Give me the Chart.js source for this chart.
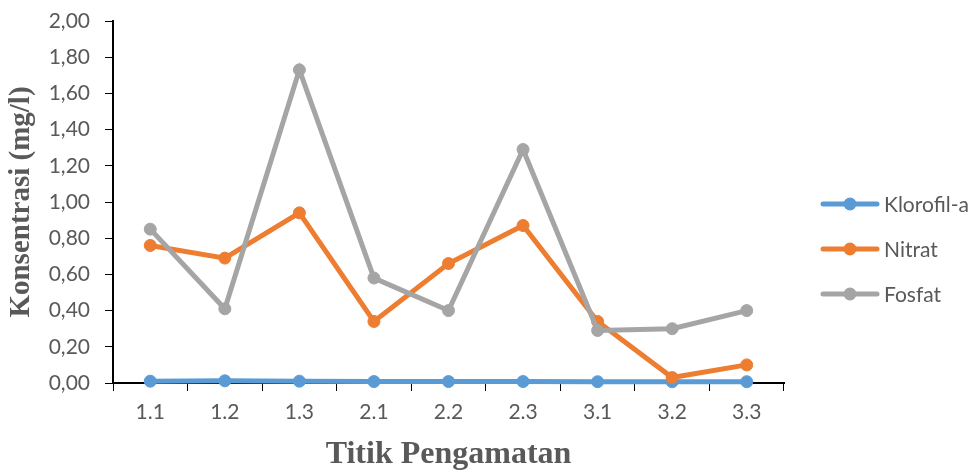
<!DOCTYPE html>
<html>
<head>
<meta charset="utf-8">
<script src="https://cdn.jsdelivr.net/npm/chart.js@4"></script>
<style>
  body { margin: 0; background: #fff; }
  canvas { display: block; }
</style>
</head>
<body>
<canvas id="chart" width="973" height="472"></canvas>
<script>
// --- data ---
const categories = ['1.1', '1.2', '1.3', '2.1', '2.2', '2.3', '3.1', '3.2', '3.3'];
const klorofil = [0.010, 0.012, 0.010, 0.008, 0.008, 0.008, 0.007, 0.007, 0.007];
const nitrat = [0.76, 0.69, 0.94, 0.34, 0.66, 0.87, 0.34, 0.03, 0.10];
const fosfat = [0.85, 0.41, 1.73, 0.58, 0.40, 1.29, 0.29, 0.30, 0.40];
const yTicks = [0, 0.2, 0.4, 0.6, 0.8, 1.0, 1.2, 1.4, 1.6, 1.8, 2.0];

const GREY_TEXT = '#595959';

function series(label, data, color, order) {
    return {
        label: label,
        data: data,
        borderColor: color,
        backgroundColor: color,
        pointBackgroundColor: color,
        pointBorderColor: color,
        borderWidth: 5,
        pointRadius: 6,
        pointBorderWidth: 1,
        tension: 0,
        clip: false,
        order: order
    };
}

// Excel-style legend on the right: line with a dot, then the label
const sideLegend = {
    id: 'sideLegend',
    afterDraw(chart) {
        const ctx = chart.ctx;
        const area = chart.chartArea;
        const sets = chart.data.datasets;
        const gap = 45;
        const mid = (area.top + area.bottom) / 2;
        const x0 = area.right + 39;
        ctx.save();
        sets.forEach((ds, i) => {
            const y = mid + i * gap + 2;
            ctx.strokeStyle = ds.borderColor;
            ctx.lineWidth = 5;
            ctx.lineCap = 'round';
            ctx.beginPath();
            ctx.moveTo(x0, y);
            ctx.lineTo(x0 + 54, y);
            ctx.stroke();
            ctx.fillStyle = ds.borderColor;
            ctx.beginPath();
            ctx.arc(x0 + 27, y, 6.5, 0, Math.PI * 2);
            ctx.fill();
            ctx.fillStyle = GREY_TEXT;
            ctx.font = '21px Lato';
            ctx.textBaseline = 'middle';
            ctx.fillText(ds.label, x0 + 61, y + 1);
        });
        ctx.restore();
    }
};

new Chart(document.getElementById('chart'), {
    type: 'line',
    data: {
        labels: categories,
        datasets: [
            series('Klorofil-a', klorofil, '#5B9BD5', 3),
            series('Nitrat', nitrat, '#ED7D31', 2),
            series('Fosfat', fosfat, '#A5A5A5', 1)
        ]
    },
    plugins: [sideLegend],
    options: {
        responsive: false,
        animation: false,
        layout: { padding: { top: 21, right: 189, bottom: 0, left: 0 } },
        plugins: {
            legend: { display: false },
            tooltip: { enabled: false }
        },
        scales: {
            x: {
                offset: true,
                grid: { drawOnChartArea: false, drawTicks: true, tickLength: 8, color: '#000', offset: true },
                border: { color: '#000', width: 2 },
                ticks: { color: GREY_TEXT, font: { family: 'Lato', size: 21 }, padding: 9 },
                title: {
                    display: true,
                    text: 'Titik Pengamatan',
                    color: GREY_TEXT,
                    font: { family: 'Liberation Serif', size: 32, weight: 'bold', lineHeight: 1.1 },
                    padding: { top: 0, bottom: 0 }
                },
                afterFit(scale) { scale.height = 89; }
            },
            y: {
                min: 0,
                max: 2,
                afterBuildTicks(scale) { scale.ticks = yTicks.map(v => ({ value: v })); },
                grid: { drawOnChartArea: false, drawTicks: true, tickLength: 8, color: '#000' },
                border: { color: '#000', width: 2 },
                ticks: {
                    color: GREY_TEXT,
                    font: { family: 'Lato', size: 21 },
                    padding: 15,
                    callback: v => v.toFixed(2).replace('.', ',')
                },
                title: {
                    display: true,
                    text: 'Konsentrasi (mg/l)',
                    color: GREY_TEXT,
                    font: { family: 'Liberation Serif', size: 29, weight: 'bold', lineHeight: 1.1 },
                    padding: { top: 6, bottom: 0 }
                },
                afterFit(scale) {
                    scale.width = 113;
                    scale.paddingTop = 0;
                    scale.paddingBottom = 0;
                }
            }
        }
    }
});
</script>
</body>
</html>
